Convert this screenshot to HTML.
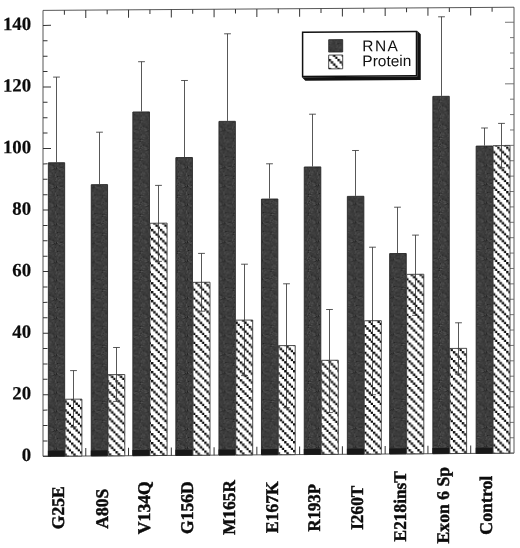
<!DOCTYPE html>
<html lang="en"><head><meta charset="utf-8"><title>RNA and Protein levels</title>
<style>
html,body{margin:0;padding:0;background:#fff;}
body{width:520px;height:548px;overflow:hidden;}
svg{display:block;}
.ax{font-family:"Liberation Serif","Times New Roman",serif;font-weight:bold;font-size:17.9px;fill:#0c0c0c;stroke:#0c0c0c;stroke-width:0.45px;}
.ay{font-size:18.8px;stroke-width:0.2px;}
.lg{font-family:"Liberation Sans",Arial,sans-serif;font-size:15.5px;fill:#111;}
</style></head><body>
<svg width="520" height="548" viewBox="0 0 520 548">
<defs>
<pattern id="hatch" patternUnits="userSpaceOnUse" width="8.88" height="8.88" patternTransform="translate(0,-1.3)">
<rect width="8.88" height="8.88" fill="#fff"/>
<rect x="0.00" y="0.00" width="2.4" height="2.4" fill="#0a0a0a"/>
<rect x="2.22" y="2.22" width="2.4" height="2.4" fill="#0a0a0a"/>
<rect x="4.44" y="4.44" width="2.4" height="2.4" fill="#0a0a0a"/>
<rect x="6.66" y="6.66" width="2.4" height="2.4" fill="#0a0a0a"/>
</pattern>
<pattern id="dark" patternUnits="userSpaceOnUse" width="18.70" height="18.70">
<rect width="18.70" height="18.70" fill="#3b3b3b"/>
<rect x="0.0" y="0.0" width="1.1" height="1.1" fill="#222222"/>
<rect x="2.2" y="0.0" width="1.1" height="1.1" fill="#505050"/>
<rect x="4.4" y="0.0" width="1.1" height="1.1" fill="#585858"/>
<rect x="5.5" y="0.0" width="1.1" height="1.1" fill="#464646"/>
<rect x="7.7" y="0.0" width="1.1" height="1.1" fill="#303030"/>
<rect x="8.8" y="0.0" width="1.1" height="1.1" fill="#505050"/>
<rect x="13.2" y="0.0" width="1.1" height="1.1" fill="#464646"/>
<rect x="14.3" y="0.0" width="1.1" height="1.1" fill="#585858"/>
<rect x="15.4" y="0.0" width="1.1" height="1.1" fill="#585858"/>
<rect x="16.5" y="0.0" width="1.1" height="1.1" fill="#222222"/>
<rect x="3.3" y="1.1" width="1.1" height="1.1" fill="#585858"/>
<rect x="6.6" y="1.1" width="1.1" height="1.1" fill="#505050"/>
<rect x="15.4" y="1.1" width="1.1" height="1.1" fill="#222222"/>
<rect x="17.6" y="1.1" width="1.1" height="1.1" fill="#2c2c2c"/>
<rect x="3.3" y="2.2" width="1.1" height="1.1" fill="#161616"/>
<rect x="4.4" y="2.2" width="1.1" height="1.1" fill="#464646"/>
<rect x="5.5" y="2.2" width="1.1" height="1.1" fill="#4a4a4a"/>
<rect x="6.6" y="2.2" width="1.1" height="1.1" fill="#464646"/>
<rect x="9.9" y="2.2" width="1.1" height="1.1" fill="#4a4a4a"/>
<rect x="15.4" y="2.2" width="1.1" height="1.1" fill="#505050"/>
<rect x="1.1" y="3.3" width="1.1" height="1.1" fill="#4a4a4a"/>
<rect x="5.5" y="3.3" width="1.1" height="1.1" fill="#303030"/>
<rect x="13.2" y="3.3" width="1.1" height="1.1" fill="#2c2c2c"/>
<rect x="14.3" y="3.3" width="1.1" height="1.1" fill="#585858"/>
<rect x="0.0" y="4.4" width="1.1" height="1.1" fill="#464646"/>
<rect x="5.5" y="4.4" width="1.1" height="1.1" fill="#303030"/>
<rect x="9.9" y="4.4" width="1.1" height="1.1" fill="#161616"/>
<rect x="11.0" y="4.4" width="1.1" height="1.1" fill="#585858"/>
<rect x="13.2" y="4.4" width="1.1" height="1.1" fill="#585858"/>
<rect x="14.3" y="4.4" width="1.1" height="1.1" fill="#161616"/>
<rect x="15.4" y="4.4" width="1.1" height="1.1" fill="#4a4a4a"/>
<rect x="17.6" y="4.4" width="1.1" height="1.1" fill="#222222"/>
<rect x="4.4" y="5.5" width="1.1" height="1.1" fill="#464646"/>
<rect x="9.9" y="5.5" width="1.1" height="1.1" fill="#585858"/>
<rect x="12.1" y="5.5" width="1.1" height="1.1" fill="#505050"/>
<rect x="13.2" y="5.5" width="1.1" height="1.1" fill="#585858"/>
<rect x="17.6" y="5.5" width="1.1" height="1.1" fill="#585858"/>
<rect x="1.1" y="6.6" width="1.1" height="1.1" fill="#4a4a4a"/>
<rect x="5.5" y="6.6" width="1.1" height="1.1" fill="#464646"/>
<rect x="9.9" y="6.6" width="1.1" height="1.1" fill="#505050"/>
<rect x="16.5" y="6.6" width="1.1" height="1.1" fill="#2c2c2c"/>
<rect x="17.6" y="6.6" width="1.1" height="1.1" fill="#505050"/>
<rect x="1.1" y="7.7" width="1.1" height="1.1" fill="#161616"/>
<rect x="3.3" y="7.7" width="1.1" height="1.1" fill="#2c2c2c"/>
<rect x="6.6" y="7.7" width="1.1" height="1.1" fill="#2c2c2c"/>
<rect x="12.1" y="7.7" width="1.1" height="1.1" fill="#585858"/>
<rect x="15.4" y="7.7" width="1.1" height="1.1" fill="#303030"/>
<rect x="17.6" y="7.7" width="1.1" height="1.1" fill="#505050"/>
<rect x="2.2" y="8.8" width="1.1" height="1.1" fill="#4a4a4a"/>
<rect x="8.8" y="8.8" width="1.1" height="1.1" fill="#222222"/>
<rect x="11.0" y="8.8" width="1.1" height="1.1" fill="#303030"/>
<rect x="0.0" y="9.9" width="1.1" height="1.1" fill="#505050"/>
<rect x="5.5" y="9.9" width="1.1" height="1.1" fill="#4a4a4a"/>
<rect x="6.6" y="9.9" width="1.1" height="1.1" fill="#464646"/>
<rect x="9.9" y="9.9" width="1.1" height="1.1" fill="#585858"/>
<rect x="11.0" y="9.9" width="1.1" height="1.1" fill="#585858"/>
<rect x="12.1" y="9.9" width="1.1" height="1.1" fill="#464646"/>
<rect x="14.3" y="9.9" width="1.1" height="1.1" fill="#464646"/>
<rect x="0.0" y="11.0" width="1.1" height="1.1" fill="#505050"/>
<rect x="3.3" y="11.0" width="1.1" height="1.1" fill="#585858"/>
<rect x="7.7" y="11.0" width="1.1" height="1.1" fill="#2c2c2c"/>
<rect x="8.8" y="11.0" width="1.1" height="1.1" fill="#222222"/>
<rect x="11.0" y="11.0" width="1.1" height="1.1" fill="#303030"/>
<rect x="13.2" y="11.0" width="1.1" height="1.1" fill="#4a4a4a"/>
<rect x="2.2" y="12.1" width="1.1" height="1.1" fill="#585858"/>
<rect x="4.4" y="12.1" width="1.1" height="1.1" fill="#464646"/>
<rect x="8.8" y="12.1" width="1.1" height="1.1" fill="#585858"/>
<rect x="13.2" y="12.1" width="1.1" height="1.1" fill="#303030"/>
<rect x="15.4" y="12.1" width="1.1" height="1.1" fill="#505050"/>
<rect x="16.5" y="12.1" width="1.1" height="1.1" fill="#2c2c2c"/>
<rect x="17.6" y="12.1" width="1.1" height="1.1" fill="#505050"/>
<rect x="17.6" y="13.2" width="1.1" height="1.1" fill="#222222"/>
<rect x="1.1" y="14.3" width="1.1" height="1.1" fill="#505050"/>
<rect x="3.3" y="14.3" width="1.1" height="1.1" fill="#222222"/>
<rect x="5.5" y="14.3" width="1.1" height="1.1" fill="#2c2c2c"/>
<rect x="8.8" y="14.3" width="1.1" height="1.1" fill="#4a4a4a"/>
<rect x="9.9" y="14.3" width="1.1" height="1.1" fill="#585858"/>
<rect x="12.1" y="14.3" width="1.1" height="1.1" fill="#161616"/>
<rect x="17.6" y="14.3" width="1.1" height="1.1" fill="#464646"/>
<rect x="4.4" y="15.4" width="1.1" height="1.1" fill="#4a4a4a"/>
<rect x="5.5" y="15.4" width="1.1" height="1.1" fill="#464646"/>
<rect x="7.7" y="15.4" width="1.1" height="1.1" fill="#4a4a4a"/>
<rect x="9.9" y="15.4" width="1.1" height="1.1" fill="#161616"/>
<rect x="11.0" y="15.4" width="1.1" height="1.1" fill="#585858"/>
<rect x="13.2" y="15.4" width="1.1" height="1.1" fill="#4a4a4a"/>
<rect x="14.3" y="15.4" width="1.1" height="1.1" fill="#222222"/>
<rect x="15.4" y="15.4" width="1.1" height="1.1" fill="#222222"/>
<rect x="6.6" y="16.5" width="1.1" height="1.1" fill="#2c2c2c"/>
<rect x="7.7" y="16.5" width="1.1" height="1.1" fill="#585858"/>
<rect x="9.9" y="16.5" width="1.1" height="1.1" fill="#505050"/>
<rect x="13.2" y="16.5" width="1.1" height="1.1" fill="#585858"/>
<rect x="14.3" y="16.5" width="1.1" height="1.1" fill="#505050"/>
<rect x="16.5" y="16.5" width="1.1" height="1.1" fill="#303030"/>
<rect x="0.0" y="17.6" width="1.1" height="1.1" fill="#222222"/>
<rect x="1.1" y="17.6" width="1.1" height="1.1" fill="#585858"/>
<rect x="4.4" y="17.6" width="1.1" height="1.1" fill="#222222"/>
<rect x="5.5" y="17.6" width="1.1" height="1.1" fill="#2c2c2c"/>
<rect x="8.8" y="17.6" width="1.1" height="1.1" fill="#303030"/>
<rect x="11.0" y="17.6" width="1.1" height="1.1" fill="#4a4a4a"/>
<rect x="14.3" y="17.6" width="1.1" height="1.1" fill="#505050"/>
<rect x="17.6" y="17.6" width="1.1" height="1.1" fill="#464646"/>
</pattern>
</defs>
<rect width="520" height="548" fill="#fff"/>
<g transform="matrix(1,-0.0067,0,1,0,0.2881)">
<rect x="43.0" y="10.4" width="471.0" height="445.9" fill="none" stroke="#444" stroke-width="0.9"/>
<path d="M43.0 456.30h8M43.0 440.91h4.5M43.0 425.52h4.5M43.0 410.13h4.5M43.0 394.74h8M43.0 379.35h4.5M43.0 363.96h4.5M43.0 348.57h4.5M43.0 333.18h8M43.0 317.79h4.5M43.0 302.40h4.5M43.0 287.01h4.5M43.0 271.62h8M43.0 256.23h4.5M43.0 240.84h4.5M43.0 225.45h4.5M43.0 210.06h8M43.0 194.67h4.5M43.0 179.28h4.5M43.0 163.89h4.5M43.0 148.50h8M43.0 133.11h4.5M43.0 117.72h4.5M43.0 102.33h4.5M43.0 86.94h8M43.0 71.55h4.5M43.0 56.16h4.5M43.0 40.77h4.5M43.0 25.38h8M64.39 10.4v4.4M85.77 10.4v8M85.77 456.3v-8M107.16 10.4v4.4M128.54 10.4v8M128.54 456.3v-8M149.93 10.4v4.4M171.31 10.4v8M171.31 456.3v-8M192.70 10.4v4.4M214.08 10.4v8M214.08 456.3v-8M235.47 10.4v4.4M256.85 10.4v8M256.85 456.3v-8M278.24 10.4v4.4M299.62 10.4v8M299.62 456.3v-8M321.00 10.4v4.4M342.39 10.4v8M342.39 456.3v-8M363.78 10.4v4.4M385.16 10.4v8M385.16 456.3v-8M406.55 10.4v4.4M427.93 10.4v8M427.93 456.3v-8M449.32 10.4v4.4M470.70 10.4v8M470.70 456.3v-8M492.09 10.4v4.4" stroke="#333" stroke-width="1" fill="none"/>
<path d="M514.0 456.30h-9M514.0 440.91h-4M514.0 425.52h-4M514.0 410.13h-4M514.0 394.74h-9M514.0 379.35h-4M514.0 363.96h-4M514.0 348.57h-4M514.0 333.18h-9M514.0 317.79h-4M514.0 302.40h-4M514.0 287.01h-4M514.0 271.62h-9M514.0 256.23h-4M514.0 240.84h-4M514.0 225.45h-4M514.0 210.06h-9M514.0 194.67h-4M514.0 179.28h-4M514.0 163.89h-4M514.0 148.50h-9M514.0 133.11h-4M514.0 117.72h-4M514.0 102.33h-4M514.0 86.94h-9M514.0 71.55h-4M514.0 56.16h-4M514.0 40.77h-4M514.0 25.38h-9" stroke="#666" stroke-width="0.9" fill="none"/>
<path d="M56.50 162.39V77.19M53.10 77.19h6.8" stroke="#3a3a3a" stroke-width="0.85" fill="none"/>
<rect x="48.35" y="162.84" width="16.30" height="293.46" fill="url(#dark)" stroke="#262626" stroke-width="0.9"/>
<rect x="47.90" y="450.70" width="17.20" height="5.6" fill="#181818"/>
<rect x="65.10" y="399.40" width="16.80" height="56.90" fill="url(#hatch)" stroke="#3a3a3a" stroke-width="0.9"/>
<path d="M73.50 427.10V370.80M70.10 370.80h6.8M70.10 427.10h6.8" stroke="#3a3a3a" stroke-width="0.85" fill="none"/>
<path d="M99.50 184.58V132.58M96.10 132.58h6.8" stroke="#3a3a3a" stroke-width="0.85" fill="none"/>
<rect x="91.25" y="185.03" width="16.30" height="271.27" fill="url(#dark)" stroke="#262626" stroke-width="0.9"/>
<rect x="90.80" y="450.70" width="17.20" height="5.6" fill="#181818"/>
<rect x="108.00" y="375.09" width="16.80" height="81.21" fill="url(#hatch)" stroke="#3a3a3a" stroke-width="0.9"/>
<path d="M116.50 401.89V347.99M113.10 347.99h6.8M113.10 401.89h6.8" stroke="#3a3a3a" stroke-width="0.85" fill="none"/>
<path d="M141.50 112.16V62.36M138.10 62.36h6.8" stroke="#3a3a3a" stroke-width="0.85" fill="none"/>
<rect x="132.85" y="112.61" width="16.65" height="343.69" fill="url(#dark)" stroke="#262626" stroke-width="0.9"/>
<rect x="132.40" y="450.70" width="17.55" height="5.6" fill="#181818"/>
<rect x="149.95" y="223.97" width="17.15" height="232.33" fill="url(#hatch)" stroke="#3a3a3a" stroke-width="0.9"/>
<path d="M158.50 262.17V186.17M155.10 186.17h6.8M155.10 262.17h6.8" stroke="#3a3a3a" stroke-width="0.85" fill="none"/>
<path d="M184.50 158.05V81.45M181.10 81.45h6.8" stroke="#3a3a3a" stroke-width="0.85" fill="none"/>
<rect x="175.85" y="158.50" width="16.60" height="297.80" fill="url(#dark)" stroke="#262626" stroke-width="0.9"/>
<rect x="175.40" y="450.70" width="17.50" height="5.6" fill="#181818"/>
<rect x="192.90" y="283.36" width="17.10" height="172.94" fill="url(#hatch)" stroke="#3a3a3a" stroke-width="0.9"/>
<path d="M201.50 312.26V254.46M198.10 254.46h6.8M198.10 312.26h6.8" stroke="#3a3a3a" stroke-width="0.85" fill="none"/>
<path d="M227.50 122.14V35.04M224.10 35.04h6.8" stroke="#3a3a3a" stroke-width="0.85" fill="none"/>
<rect x="218.95" y="122.59" width="16.40" height="333.71" fill="url(#dark)" stroke="#262626" stroke-width="0.9"/>
<rect x="218.50" y="450.70" width="17.30" height="5.6" fill="#181818"/>
<rect x="235.80" y="321.45" width="16.90" height="134.85" fill="url(#hatch)" stroke="#3a3a3a" stroke-width="0.9"/>
<path d="M244.50 376.95V265.55M241.10 265.55h6.8M241.10 376.95h6.8" stroke="#3a3a3a" stroke-width="0.85" fill="none"/>
<path d="M269.50 200.12V165.32M266.10 165.32h6.8" stroke="#3a3a3a" stroke-width="0.85" fill="none"/>
<rect x="261.45" y="200.57" width="16.40" height="255.73" fill="url(#dark)" stroke="#262626" stroke-width="0.9"/>
<rect x="261.00" y="450.70" width="17.30" height="5.6" fill="#181818"/>
<rect x="278.30" y="347.23" width="16.90" height="109.07" fill="url(#hatch)" stroke="#3a3a3a" stroke-width="0.9"/>
<path d="M286.50 409.33V285.43M283.10 285.43h6.8M283.10 409.33h6.8" stroke="#3a3a3a" stroke-width="0.85" fill="none"/>
<path d="M312.50 168.31V116.01M309.10 116.01h6.8" stroke="#3a3a3a" stroke-width="0.85" fill="none"/>
<rect x="304.25" y="168.76" width="16.55" height="287.54" fill="url(#dark)" stroke="#262626" stroke-width="0.9"/>
<rect x="303.80" y="450.70" width="17.45" height="5.6" fill="#181818"/>
<rect x="321.25" y="362.22" width="17.05" height="94.08" fill="url(#hatch)" stroke="#3a3a3a" stroke-width="0.9"/>
<path d="M329.50 414.52V311.42M326.10 311.42h6.8M326.10 414.52h6.8" stroke="#3a3a3a" stroke-width="0.85" fill="none"/>
<path d="M355.50 197.99V152.59M352.10 152.59h6.8" stroke="#3a3a3a" stroke-width="0.85" fill="none"/>
<rect x="347.35" y="198.44" width="16.50" height="257.86" fill="url(#dark)" stroke="#262626" stroke-width="0.9"/>
<rect x="346.90" y="450.70" width="17.40" height="5.6" fill="#181818"/>
<rect x="364.30" y="322.91" width="17.00" height="133.39" fill="url(#hatch)" stroke="#3a3a3a" stroke-width="0.9"/>
<path d="M372.50 397.01V249.41M369.10 249.41h6.8M369.10 397.01h6.8" stroke="#3a3a3a" stroke-width="0.85" fill="none"/>
<path d="M397.50 255.48V209.58M394.10 209.58h6.8" stroke="#3a3a3a" stroke-width="0.85" fill="none"/>
<rect x="389.65" y="255.93" width="16.60" height="200.37" fill="url(#dark)" stroke="#262626" stroke-width="0.9"/>
<rect x="389.20" y="450.70" width="17.50" height="5.6" fill="#181818"/>
<rect x="406.70" y="276.80" width="17.10" height="179.50" fill="url(#hatch)" stroke="#3a3a3a" stroke-width="0.9"/>
<path d="M415.50 317.80V237.60M412.10 237.60h6.8M412.10 317.80h6.8" stroke="#3a3a3a" stroke-width="0.85" fill="none"/>
<path d="M441.50 98.57V19.47M438.10 19.47h6.8" stroke="#3a3a3a" stroke-width="0.85" fill="none"/>
<rect x="432.85" y="99.02" width="16.40" height="357.28" fill="url(#dark)" stroke="#262626" stroke-width="0.9"/>
<rect x="432.40" y="450.70" width="17.30" height="5.6" fill="#181818"/>
<rect x="449.70" y="351.18" width="16.90" height="105.12" fill="url(#hatch)" stroke="#3a3a3a" stroke-width="0.9"/>
<path d="M458.50 376.98V325.58M455.10 325.58h6.8M455.10 376.98h6.8" stroke="#3a3a3a" stroke-width="0.85" fill="none"/>
<path d="M484.50 148.56V130.96M481.10 130.96h6.8" stroke="#3a3a3a" stroke-width="0.85" fill="none"/>
<rect x="476.15" y="149.01" width="16.45" height="307.29" fill="url(#dark)" stroke="#262626" stroke-width="0.9"/>
<rect x="475.70" y="450.70" width="17.35" height="5.6" fill="#181818"/>
<rect x="493.05" y="148.67" width="16.95" height="307.63" fill="url(#hatch)" stroke="#3a3a3a" stroke-width="0.9"/>
<path d="M501.50 170.87V126.47M498.10 126.47h6.8M498.10 170.87h6.8" stroke="#3a3a3a" stroke-width="0.85" fill="none"/>
<path d="M301.85 79.05000000000001L305.35 82.55000000000001H420.75V36.85L417.25 33.35V79.05000000000001Z" fill="#111"/>
<rect x="302.6" y="34.1" width="113.9" height="44.2" fill="#fff" stroke="#111" stroke-width="1.5"/>
<rect x="328.7" y="41.6" width="14" height="12.4" fill="url(#dark)" stroke="#222" stroke-width="0.8"/>
<rect x="328.7" y="57" width="14" height="13.8" fill="url(#hatch)" stroke="#222" stroke-width="0.8"/>
<text class="lg" x="362.3" y="53.5" letter-spacing="1.4">RNA</text>
<text class="lg" x="362.3" y="68.5">Protein</text>
<text class="ax ay" x="31.1" y="460.8" text-anchor="end">0</text>
<text class="ax ay" x="31.1" y="399.2" text-anchor="end">20</text>
<text class="ax ay" x="31.1" y="337.7" text-anchor="end">40</text>
<text class="ax ay" x="31.1" y="276.1" text-anchor="end">60</text>
<text class="ax ay" x="31.1" y="214.6" text-anchor="end">80</text>
<text class="ax ay" x="31.1" y="153.0" text-anchor="end">100</text>
<text class="ax ay" x="31.1" y="91.4" text-anchor="end">120</text>
<text class="ax ay" x="31.1" y="29.9" text-anchor="end">140</text>
<text class="ax" transform="translate(64.39,507.90) rotate(-90) scale(0.984,1)" text-anchor="middle">G25E</text>
<text class="ax" transform="translate(107.95,509.10) rotate(-90) scale(0.98,1)" text-anchor="middle">A80S</text>
<text class="ax" transform="translate(150.23,508.40) rotate(-90) scale(0.987,1)" text-anchor="middle">V134Q</text>
<text class="ax" transform="translate(193.00,508.70) rotate(-90) scale(0.977,1)" text-anchor="middle">G156D</text>
<text class="ax" transform="translate(235.16,508.70) rotate(-90) scale(0.966,1)" text-anchor="middle">M165R</text>
<text class="ax" transform="translate(277.94,508.70) rotate(-90) scale(0.98,1)" text-anchor="middle">E167K</text>
<text class="ax" transform="translate(320.06,509.60) rotate(-90) scale(0.935,1)" text-anchor="middle">R193P</text>
<text class="ax" transform="translate(363.33,509.90) rotate(-90) scale(0.967,1)" text-anchor="middle">I260T</text>
<text class="ax" transform="translate(406.10,508.70) rotate(-90) scale(0.968,1)" text-anchor="middle">E218insT</text>
<text class="ax" transform="translate(448.62,507.90) rotate(-90) scale(0.987,1)" text-anchor="middle">Exon 6 Sp</text>
<text class="ax" transform="translate(492.39,508.20) rotate(-90) scale(0.995,1)" text-anchor="middle">Control</text>
</g>
</svg>
</body></html>
